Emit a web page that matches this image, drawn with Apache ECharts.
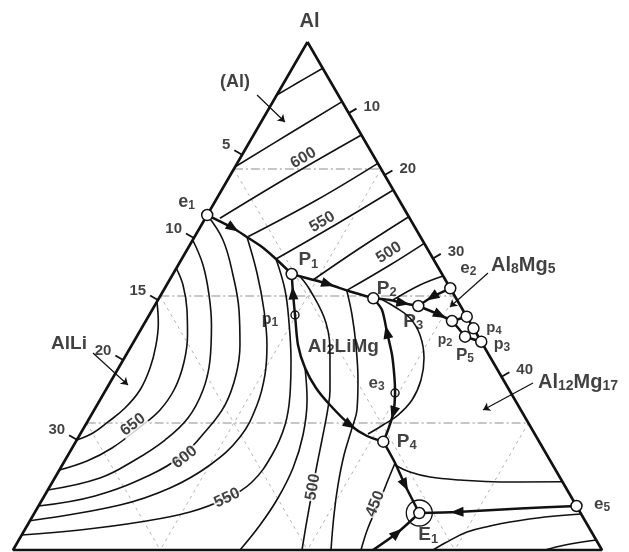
<!DOCTYPE html>
<html>
<head>
<meta charset="utf-8">
<title>Al–Li–Mg liquidus projection</title>
<script src="https://cdn.jsdelivr.net/npm/echarts@6/dist/echarts.min.js"></script>
<style>
html, body { margin: 0; padding: 0; background: #fff; }
#chart { width: 629px; height: 552px; }
</style>
</head>
<body>
<div id="chart"></div>
<script>
// Liquidus projection of the Al-rich part of the Al–Li–Mg system.
// Every composition is [Li, Mg] in percent of the triangle side (Al = 100 - Li - Mg).

// ---- side scales ----
const leftTickText  = ['5', '10', '15', '20', '30'];
const leftTickLi    = [22.2, 38.6, 50.8, 62.6, 78.3];
const rightTickText = ['10', '20', '30', '40'];
const rightTickMg   = [14.0, 26.2, 42.6, 65.9];

// ---- invariant points ----
const e1 = [34.06, 0];
const P1 = [25.52, 20.15];
const P2 = [14.05, 36.4];
const P3 = [7.18, 44.79];
const e2 = [0, 48.48];
const P4 = [26.47, 52.21];
const E1 = [27.38, 65.34];
const e5 = [0, 91.34];
const p1 = [28.99, 24.75];
const e3 = [19.68, 49.41];
const qA = [2.93, 51.99];
const qB = [0, 54.07];
const qC = [0, 56.36];
const qD = [2.26, 55.75];
const qE = [0, 59.0];

// ---- monovariant lines ----
const bndE1P1   = [e1, [30.95, 5.66], [29.47, 8.92], [27.89, 12.46], [26.71, 16.01], P1];
const bndP1P2   = [P1, [22.9, 23.75], [20.34, 27.3], [17.33, 31.78], P2];
const bndP2P3   = [P2, [11.39, 39.4], [9.48, 41.9], P3];
const bndP3Q    = [P3, [4.37, 49.37], qA];
const bndE2P3   = [e2, [3.96, 46.24], P3];
const bndP2P4   = [P2, [13.73, 39.03], [15.05, 42.04], [16.45, 45.16], [18.3, 47.84], e3, [21.94, 51.09], [24.52, 51.86], P4];
const bndP1P4   = [P1, [27.17, 22.24], p1, [31.44, 28.21], [32.5, 31.67], [32.61, 35.5], [31.91, 39.55], [30.47, 44.92], [28.68, 48.88], P4];
const bndP4E1   = [P4, [26.57, 56.3], [27.05, 60.15], E1];
const bndE5E1   = [e5, [9.83, 82.0], [20.88, 71.64], E1];
const bndBaseE1 = [[38.88, 61.12], [33.12, 63.53], E1];
const bndQ1     = [qA, [2.53, 53.97], qD];
const bndQ2     = [qA, qB];
const bndQ3     = [qD, qE];

// direction of falling temperature: [arrow position, point further along the line]
const arrows = [
  [[30.95, 5.66], [29.47, 8.92]],
  [[20.34, 27.3], [17.33, 31.78]],
  [[9.48, 41.9], P3],
  [[4.37, 49.37], qA],
  [[3.96, 46.24], P3],
  [[27.17, 22.24], P1],
  [[30.47, 44.92], [28.68, 48.88]],
  [[15.05, 42.04], [13.73, 39.03]],
  [[21.94, 51.09], [24.52, 51.86]],
  [[27.05, 60.15], E1],
  [[20.88, 71.64], E1],
  [[33.12, 63.53], E1]
];

// ---- liquidus isotherms: (Al) field ----
const isoAl1 = [[10.43, 0], [5.89, 2.24], [0, 5.18]];
const isoAl2 = [[24.55, 0], [11.95, 6.02], [0, 11.75]];
const isoAl3 = [[32.21, 2.49], [16.16, 10.22], [0, 18.31]];
const isoAl4 = [[29.2, 9.1], [13.99, 17.11], [0, 23.88]];
const isoAl5 = [[26.71, 16.01], [13.34, 22.68], [0, 29.13]];
const isoAl6 = [[22.49, 24.36], [11.36, 29.19], [0, 34.39]];
const isoAl7 = [[17.79, 31.11], [7.94, 35.96], [0, 39.63]];
const isoAl8 = [[10.88, 39.91], [4.81, 43.02], [0, 46.06]];

// ---- liquidus isotherms: AlLi and Al2LiMg fields ----
const isoLi1 = [[51.12, 0], [52.98, 2.33], [55.55, 4.1], [58.82, 5.35], [62.69, 5.81], [67.01, 5.04], [71.27, 3.53], [74.91, 2.06], [78.35, 0]];
const isoLi2 = [[44.55, 0], [45.05, 2.78], [46.84, 5.92], [49.21, 8.47], [52.46, 10.53], [56.55, 11.56], [61.26, 11.18], [66.34, 9.45], [73.15, 6.77], [78.68, 3.8], [84.25, 0]];
const isoLi3 = [[38.98, 0], [39.69, 4.21], [41.62, 8.18], [44.16, 11.55], [47.85, 14.75], [51.99, 16.51], [57.3, 16.72], [63.37, 14.98], [70.43, 11.85], [78.15, 7.68], [88.19, 0]];
const isoLi4 = [e1, [33.84, 5.14], [35.59, 10.28], [38.01, 14.75], [41.29, 18.36], [44.92, 20.63], [49.74, 21.72], [55.79, 20.98], [61.79, 19.51], [69.36, 15.88], [80.77, 8.6], [91.34, 0]];
const isoLi5 = [[29.47, 8.92], [31.31, 14.16], [33.77, 18.99], [36.71, 22.94], [40.0, 25.55], [44.3, 27.16], [50.34, 27.42], [58.19, 25.08], [67.24, 20.56], [77.4, 13.74], [94.23, 0]];
const isoLi6 = [[26.71, 16.01], [28.23, 20.59], [30.79, 24.52], [34.1, 28.5], [37.72, 31.77], [41.51, 33.88], [46.68, 34.62], [52.72, 33.89], [58.55, 31.21], [66.21, 26.31], [75.69, 18.8], [86.65, 9.41], [97.05, 0]];
const isoLi7 = [[32.5, 31.67], [35.31, 35.16], [39.44, 37.92], [44.39, 39.47], [49.89, 39.87], [55.6, 39.48], [61.46, 38.54]];
const isoLi8 = [[24.35, 21.81], [23.99, 24.83], [24.51, 30.8], [27.19, 34.82], [30.43, 38.07], [32.55, 39.5], [36.72, 41.63], [40.03, 43.24], [42.87, 44.73], [47.13, 46.96], [50.93, 49.07]];
const isoLi9 = [[17.79, 31.11], [19.31, 34.43], [21.6, 38.05], [24.7, 41.84], [27.82, 44.62], [30.43, 45.55], [34.45, 46.85], [38.42, 48.78], [42.06, 51.05], [46.01, 53.99]];
const isoLi10 = [[26.57, 56.3], [29.44, 56.78], [33.6, 57.54], [37.57, 58.1], [40.92, 59.08]];

// ---- liquidus isotherms: Al12Mg17 field ----
const isoMgLoop = [[12.7, 37.99], [11.23, 40.94], [9.77, 44.56], [9.74, 47.94], [11.32, 50.88], [14.0, 52.54], [17.49, 52.98], [21.35, 52.08], [24.87, 50.52], [28.32, 48.85]];
const isoMg1 = [[26.78, 56.49], [24.93, 59.72], [22.02, 63.61], [17.22, 69.0], [10.62, 75.99], [0, 86.56]];
const isoMg2 = [[28.69, 71.31], [25.97, 72.65], [21.15, 75.31], [16.66, 78.62], [12.87, 81.62], [6.43, 87.07], [0, 92.91]];
const isoMg3 = [[9.68, 90.32], [5.79, 93.23], [0, 98.03]];

// isotherm temperatures (°C) written along their curves
const isoValues = [
  { text: '600', curve: isoAl3, at: 1.25, off: 9 },
  { text: '550', curve: isoAl5, at: 0.86, off: 9 },
  { text: '500', curve: isoAl7, at: 1.14, off: 11 },
  { text: '650', curve: isoLi2, at: 7.12, off: 6 },
  { text: '600', curve: isoLi4, at: 8.0,  off: -3 },
  { text: '550', curve: isoLi6, at: 8.0,  off: 0 },
  { text: '500', curve: isoLi8, at: 8.0,  off: 0 },
  { text: '450', curve: isoLi10, at: 2.0, off: 3 }
];

// ---- drawing ----
const SQ = Math.sqrt(3) / 2;
const GRID = { left: 13, top: 42, width: 589, height: 508 };
const KX = GRID.width, KY = GRID.height / SQ;
const INK = '#111';
const FONT = "'Liberation Sans', Arial, Helvetica, sans-serif";

function xy(p) {
  const li = p[0] / 100, mg = p[1] / 100, al = 1 - li - mg;
  return [mg + al / 2, al * SQ];
}
function toPx(c) { return [GRID.left + c[0] * KX, GRID.top + GRID.height - c[1] * KY]; }
function fromPx(q) { return [(q[0] - GRID.left) / KX, (GRID.top + GRID.height - q[1]) / KY]; }

const series = [];
function addLine(pts, width, extra) {
  series.push(Object.assign({
    type: 'line', data: pts.map(xy), symbol: 'none', silent: true, clip: false,
    smooth: 0.35, z: 3, lineStyle: { color: INK, width: width }
  }, extra || {}));
}

// 25 % composition grid
[25, 50, 75].forEach(function (v) {
  addLine([[100 - v, 0], [0, 100 - v]], 1, { smooth: false, z: 1, lineStyle: { color: '#8d8d8d', width: 1, type: [9, 3, 2, 3] } });
  addLine([[v, 0], [v, 100 - v]], 1, { smooth: false, z: 1, lineStyle: { color: '#b4b4b4', width: 1, type: [3, 4] } });
  addLine([[0, v], [100 - v, v]], 1, { smooth: false, z: 1, lineStyle: { color: '#b4b4b4', width: 1, type: [3, 4] } });
});

// isotherms
[isoAl1, isoAl2, isoAl3, isoAl4, isoAl5, isoAl6, isoAl7, isoAl8,
 isoLi1, isoLi2, isoLi3, isoLi4, isoLi5, isoLi6, isoLi7, isoLi8, isoLi9, isoLi10,
 isoMgLoop, isoMg1, isoMg2, isoMg3].forEach(function (c) { addLine(c, 1.6, { smooth: 0.4 }); });

// monovariant lines
[bndE1P1, bndP1P2, bndP2P3, bndP3Q, bndE2P3, bndP2P4, bndP1P4, bndP4E1, bndE5E1, bndBaseE1,
 bndQ1, bndQ2, bndQ3].forEach(function (c) { addLine(c, 2.5, { smooth: 0.25, z: 5 }); });

// triangle frame
addLine([[0, 0], [100, 0], [0, 100], [0, 0]], 2.6, { smooth: false, z: 6 });

// side ticks
const NL = [-0.865, -0.5015], NR = [0.865, -0.5015];
const tickLabels = [];
function addTick(p, n, text, left) {
  const a = toPx(xy(p));
  const b = [a[0] + n[0] * 9, a[1] + n[1] * 9];
  series.push({ type: 'line', data: [xy(p), fromPx(b)], symbol: 'none', silent: true, clip: false, z: 6,
    lineStyle: { color: INK, width: 1.8 } });
  const t = left ? [b[0] - 4, b[1] - 5] : [b[0] + 7, b[1] - 2];
  tickLabels.push({ value: fromPx(t), label: { formatter: text, align: left ? 'right' : 'left', verticalAlign: 'middle' } });
}
leftTickLi.forEach(function (li, i) { addTick([li, 0], NL, leftTickText[i], true); });
rightTickMg.forEach(function (mg, i) { addTick([0, mg], NR, rightTickText[i], false); });

// E1 ring
series.push({ type: 'scatter', data: [xy(E1)], symbol: 'circle', symbolSize: 26, silent: true, clip: false, z: 7,
  itemStyle: { color: 'rgba(0,0,0,0)', borderColor: INK, borderWidth: 1.3, opacity: 1 } });

// invariant points
series.push({ type: 'scatter', data: [e1, P1, P2, P3, e2, P4, E1, e5, qA, qB, qC, qD, qE].map(xy),
  symbol: 'circle', symbolSize: 11, silent: true, clip: false, z: 10,
  itemStyle: { color: '#fff', borderColor: INK, borderWidth: 1.5, opacity: 1 } });
series.push({ type: 'scatter', data: [p1, e3].map(xy), symbol: 'circle', symbolSize: 8, silent: true, clip: false, z: 10,
  itemStyle: { color: 'rgba(0,0,0,0)', borderColor: INK, borderWidth: 1.4, opacity: 1 } });

// arrowheads along the monovariant lines
series.push({ type: 'scatter', silent: true, clip: false, z: 9, symbol: 'triangle', symbolSize: [10, 13],
  itemStyle: { color: INK, opacity: 1 },
  data: arrows.map(function (ab) {
    const A = toPx(xy(ab[0])), B = toPx(xy(ab[1]));
    const ang = Math.atan2(-(B[1] - A[1]), B[0] - A[0]) * 180 / Math.PI;
    return { value: xy(ab[0]), symbolRotate: ang - 90 };
  }) });

// text helpers
function textSeries(items, z) {
  series.push({ type: 'scatter', silent: true, clip: false, z: z || 12, symbolSize: 1,
    itemStyle: { color: 'rgba(0,0,0,0)' }, data: items,
    label: { show: true, position: 'inside', color: INK, fontFamily: FONT } });
}
function rich(name) {
  return name.replace(/(\D+)|(\d+)/g, function (m, a, d) { return a ? '{m|' + a + '}' : '{s|' + d + '}'; });
}
function richStyle(big, small) {
  return {
    m: { fontSize: big, fontWeight: 'bold', fontFamily: FONT, color: INK, lineHeight: big + 2 },
    s: { fontSize: small, fontWeight: 'bold', fontFamily: FONT, color: INK, lineHeight: big + 2, verticalAlign: 'bottom' }
  };
}

// tick numbers
textSeries(tickLabels.map(function (t) {
  t.label.fontSize = 15; t.label.fontWeight = 'bold'; t.label.fontFamily = FONT; t.label.color = INK; return t;
}));

// phase fields and points
const annotations = [
  { name: 'Al',       at: [0, 0],          size: [20, 14], dy: -21 },
  { name: '(Al)',     at: [16.22, -8.41],  size: [18, 13] },
  { name: 'AlLi',     at: [70.22, -10.77], size: [19, 13] },
  { name: 'Al2LiMg',  at: [23.91, 36.07],  size: [19, 14] },
  { name: 'Al8Mg5',   at: [-9.2, 53.1],    size: [20, 14], align: 'left' },
  { name: 'Al12Mg17', at: [-5.66, 72.59],  size: [20, 14], align: 'left' },
  { name: 'e1',  at: [36.23, -4.79],  size: [18, 12] },
  { name: 'P1',  at: [21.31, 21.6],   size: [19, 13] },
  { name: 'P2',  at: [10.79, 37.69],  size: [19, 13] },
  { name: 'P3',  at: [9.57, 45.49],   size: [19, 13] },
  { name: 'e2',  at: [-5.02, 49.57],  size: [17, 12] },
  { name: 'p2',  at: [5.99, 52.67],   size: [14, 11] },
  { name: 'P5',  at: [4.07, 57.54],   size: [17, 12] },
  { name: 'p3',  at: [-3.19, 62.84],  size: [16, 12] },
  { name: 'p4',  at: [-3.51, 59.81],  size: [15, 11] },
  { name: 'p1',  at: [33.73, 20.99],  size: [16, 12] },
  { name: 'e3',  at: [21.85, 45.34],  size: [17, 12] },
  { name: 'P4',  at: [22.5, 56.18],   size: [19, 13] },
  { name: 'E1',  at: [28.02, 69.03],  size: [19, 13] },
  { name: 'e5',  at: [-3.17, 94.11],  size: [17, 12], align: 'left' }
];
textSeries(annotations.map(function (a) {
  let v = xy(a.at);
  if (a.dy) { const q = toPx(v); v = fromPx([q[0] + 2, q[1] + a.dy]); }
  return { value: v, label: { formatter: rich(a.name), rich: richStyle(a.size[0], a.size[1]),
    align: a.align || 'center', verticalAlign: 'middle' } };
}), 13);

// pointer arrows of the field names
const pointers = [
  [[13.78, -3.35], [11.7, 4.05]],
  [[67.03, -5.81], [64.24, 3.28]],
  [[-7.91, 53.38], [1.9, 50.27]],
  [[-4.72, 71.85], [6.42, 66.02]]
];
series.push({ type: 'lines', coordinateSystem: 'cartesian2d', silent: true, z: 8,
  symbol: ['none', 'arrow'], symbolSize: 7,
  lineStyle: { color: INK, width: 1.2, opacity: 1 },
  data: pointers.map(function (p) { return { coords: [xy(p[0]), xy(p[1])] }; }) });

// isotherm temperatures
textSeries(isoValues.map(function (L) {
  const pts = L.curve.map(function (p) { return toPx(xy(p)); });
  const i = Math.floor(L.at), f = L.at - i;
  let pos, d;
  if (f === 0) {
    pos = pts[i];
    const a = pts[Math.max(0, i - 1)], b = pts[Math.min(pts.length - 1, i + 1)];
    d = [b[0] - a[0], b[1] - a[1]];
  } else {
    const a = pts[i], b = pts[i + 1];
    pos = [a[0] + (b[0] - a[0]) * f, a[1] + (b[1] - a[1]) * f];
    d = [b[0] - a[0], b[1] - a[1]];
  }
  let ang = Math.atan2(-d[1], d[0]) * 180 / Math.PI;
  if (ang > 90) ang -= 180;
  if (ang <= -90) ang += 180;
  const r = ang * Math.PI / 180;
  const up = [-Math.sin(r), -Math.cos(r)];
  const c = [pos[0] + up[0] * L.off, pos[1] + up[1] * L.off];
  return { value: fromPx(c), label: { formatter: L.text, rotate: ang, fontSize: 16, fontWeight: 'bold', fontFamily: FONT,
    color: INK, align: 'center', verticalAlign: 'middle',
    backgroundColor: Math.abs(L.off) < 7 ? '#fff' : 'transparent', padding: [0, 1] } };
}), 11);

const chart = echarts.init(document.getElementById('chart'), null, { renderer: 'canvas' });
chart.setOption({
  animation: false,
  backgroundColor: '#fff',
  grid: GRID,
  xAxis: { type: 'value', min: 0, max: 1, show: false },
  yAxis: { type: 'value', min: 0, max: SQ, show: false },
  series: series
});
</script>
</body>
</html>
